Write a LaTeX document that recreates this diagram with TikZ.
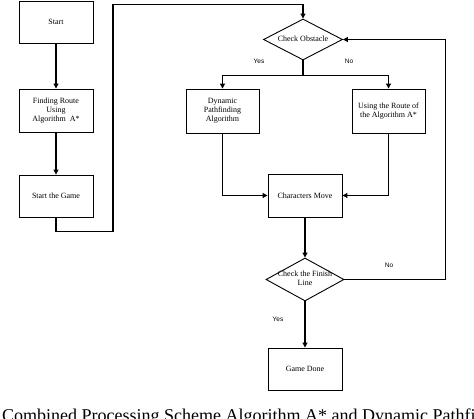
\documentclass[tikz,border=0pt]{standalone}
\usepackage{fontspec}
\setmainfont{Liberation Serif}
\setsansfont{Liberation Sans}
\usepackage{tikz}
\usetikzlibrary{shapes.geometric,calc,arrows.meta}

\newcommand{\flatbox}[1]{\makebox[0pt]{\raisebox{-2pt}[0pt][0pt]{\begin{tabular}{@{}c@{}}#1\end{tabular}}}}

\begin{document}
\begin{tikzpicture}[x=1pt,y=-1pt,
  box/.style={draw=black,line width=0.9pt,rectangle,minimum width=74pt,minimum height=43pt,
    inner sep=1pt,align=center,font=\fontsize{8}{9}\selectfont},
  decision/.style={draw=black,line width=0.9pt,diamond,aspect=2,minimum width=79pt,minimum height=41pt,
    inner sep=0pt,font=\fontsize{8}{9}\selectfont},
  arr/.style={line width=1.1pt,-{Triangle[length=5pt,width=5pt]}},
  link/.style={line width=1.1pt},
  lbl/.style={font=\sffamily\fontsize{6.5}{7}\selectfont,inner sep=0pt}]
\useasboundingbox (0,0) rectangle (474,419);
\clip (0,0) rectangle (474,419);

% Left column
\node[box,minimum height=42pt] (start) at (56,22) {Start};
\node[box] (route) at (56,110.5) {Finding Route\\Using\\Algorithm\ \ A*};
\node[box,minimum height=42pt] (game) at (56,196) {Start the Game};
\draw[arr] (start) -- (route);
\draw[arr] (route) -- (game);

% Obstacle check
\node[decision] (obstacle) at (303,39.5) {\flatbox{Check Obstacle}};
\node[box,minimum width=73pt,minimum height=44pt] (dynamic) at (222.5,111) {Dynamic\\Pathfinding\\Algorithm};
\node[box,minimum width=73pt,minimum height=44pt] (using) at (388.5,111) {Using the Route of\\the Algorithm A*};
\draw[arr] (game.south) -- ++(0,14) -| ++(57,-227) -| (obstacle.north);
\draw[link] (obstacle.south) -- ++(0,15) coordinate (split);
\draw[arr] (split) -| (dynamic.north);
\draw[arr] (split) -| (using.north);
\node[lbl] (yes1) at (259,61) {Yes};
\node[lbl] (no1) at (349,61) {No};

% Move and finish
\node[box] (move) at (305,195.5) {Characters Move};
\node[decision,minimum width=78pt,minimum height=43pt] (finish) at (305,279.5) {\flatbox{Check the Finish\\Line}};
\node[box,minimum height=42pt] (done) at (305,369) {Game Done};
\draw[arr] (dynamic.south) |- (move.west);
\draw[arr] (using.south) |- (move.east);
\draw[arr] (move) -- (finish);
\draw[arr] (finish) -- (done);
\draw[arr] (finish.east) -- ++(101,0) |- (obstacle.east);
\node[lbl] (no2) at (389,265) {No};
\node[lbl] (yes2) at (278,319) {Yes};

% Caption
\node[anchor=base west,inner sep=0pt,font=\fontsize{18}{20}\selectfont] (caption) at (2,422)
  {Combined Processing Scheme Algorithm A* and Dynamic Pathfi};
\end{tikzpicture}
\end{document}
